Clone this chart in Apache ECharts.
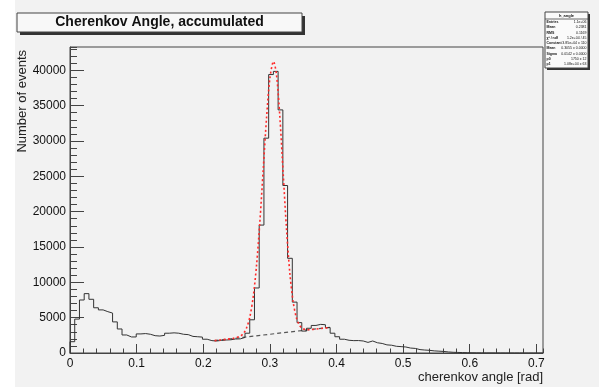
<!DOCTYPE html>
<html>
<head>
<meta charset="utf-8">
<script src="https://cdn.jsdelivr.net/npm/echarts@6/dist/echarts.min.js"></script>
<style>
html,body{margin:0;padding:0;background:#fff;}
#chart{width:599px;height:387px;background:linear-gradient(to right,#fff 0,#fff 15px,#f2f2f2 15px);}
</style>
</head>
<body>
<div id="chart"></div>
<script>
// histogram: 100 bins from 0 to 0.71 rad
const binWidth = 0.0071;
const counts = [
  1600, 4800, 7500, 8400, 7600, 6400, 6100, 5850, 5650, 4400,
  3400, 2550, 2270, 2270, 2700, 2750, 2650, 2450, 2400, 2500,
  2800, 2850, 2800, 2650, 2600, 2350, 2300, 2250, 1950, 1750,
  1700, 1780, 1840, 1870, 1980, 2000, 2200, 2800, 4700, 9200,
  18100, 30400, 39400, 39850, 34400, 23700, 13400, 7200, 4300, 3100,
  3500, 3900, 4050, 4000, 3600, 2800, 2300, 1950, 1800, 1750,
  1760, 1700, 1500, 1700, 1450, 1350, 1150, 1100, 950, 900,
  850, 700, 650, 480, 420, 380, 300, 260, 220, 150,
  100, 80, 60, 40, 30, 20, 15, 10, 8, 5,
  3, 2, 2, 1, 1, 0, 0, 0, 0, 0
];
// fit (gauss + background)
const fitX = [0.217, 0.225, 0.235, 0.245, 0.255, 0.26, 0.265, 0.27, 0.275, 0.28,
  0.285, 0.29, 0.295, 0.30, 0.3055, 0.31, 0.315, 0.32, 0.325, 0.33,
  0.335, 0.34, 0.345, 0.35, 0.355, 0.36, 0.37, 0.38, 0.39];
const fitY = [1750, 1836, 1944, 2070, 2350, 2730, 3540, 5120, 7940, 12390,
  18550, 25920, 33230, 38840, 41250, 39350, 33420, 25410, 17530, 11300,
  7210, 4930, 3850, 3430, 3310, 3300, 3400, 3510, 3620];
// background part of the fit (grey dashed)
const bgX = [0.217, 0.392];
const bgY = [1750, 3650];

const xMax = 0.71, yMax = 43300;

const statsTitle = 'h_angle';
const statsRows = [
  ['Entries', '1.1e+06'],
  ['Mean', '0.2381'],
  ['RMS', '0.1169'],
  ['\u03c7\u00b2 / ndf', '1.2e+04 / 45'],
  ['Constant', '3.85e+04 \u00b1 110'],
  ['Mean', '0.3055 \u00b1 0.0000'],
  ['Sigma', '0.0142 \u00b1 0.0000'],
  ['p0', '1750 \u00b1 12'],
  ['p1', '1.08e+04 \u00b1 63']
];

const histData = [[0, 0]];
counts.forEach((c, i) => histData.push([i * binWidth, c]));
histData.push([counts.length * binWidth, counts[counts.length - 1]]);

const font = 'Liberation Sans, Arial, sans-serif';
const ink = '#444';

const chart = echarts.init(document.getElementById('chart'));

const stats = [];
const sx = 545, sy = 12, sw = 43, sh = 56;
stats.push({type: 'rect', shape: {x: sx + 2, y: sy + 2, width: sw, height: sh}, style: {fill: '#333'}});
stats.push({type: 'rect', shape: {x: sx, y: sy, width: sw, height: sh}, style: {fill: '#fafafa', stroke: ink, lineWidth: 1}});
stats.push({type: 'text', x: sx + sw / 2, y: sy + 4, style: {text: statsTitle, font: 'bold 4px ' + font, fill: '#111', align: 'center', verticalAlign: 'middle'}});
stats.push({type: 'line', shape: {x1: sx, y1: sy + 7, x2: sx + sw, y2: sy + 7}, style: {stroke: ink, lineWidth: 0.8}});
statsRows.forEach((r, i) => {
  const y = sy + 10 + i * 5.3;
  stats.push({type: 'text', x: sx + 1.5, y: y, style: {text: r[0], font: 'bold 3.5px ' + font, fill: '#111', align: 'left', verticalAlign: 'middle'}});
  stats.push({type: 'text', x: sx + sw - 1.5, y: y, style: {text: r[1], font: '3.5px ' + font, fill: '#111', align: 'right', verticalAlign: 'middle'}});
});

chart.setOption({
  animation: false,
  backgroundColor: 'transparent',
  grid: {left: 70, right: 56, top: 47, bottom: 34, show: true, borderColor: ink, borderWidth: 1, backgroundColor: 'transparent'},
  xAxis: [{
    type: 'value', min: 0, max: xMax, interval: 0.1, position: 'bottom',
    axisLine: {show: true, onZero: false, lineStyle: {color: ink}},
    axisTick: {show: true, inside: true, length: 9, lineStyle: {color: ink}},
    axisLabel: {fontSize: 12, color: '#111', fontFamily: font, margin: 5, showMaxLabel: false,
      formatter: v => String(+v.toFixed(2))},
    splitLine: {show: false}
  }, {
    type: 'value', min: 0, max: xMax, interval: 0.02, position: 'bottom',
    axisLine: {show: false},
    axisTick: {show: true, inside: true, length: 4.5, lineStyle: {color: ink}},
    axisLabel: {show: false},
    splitLine: {show: false}
  }],
  yAxis: [{
    type: 'value', min: 0, max: yMax, interval: 5000, position: 'left',
    axisLine: {show: true, onZero: false, lineStyle: {color: ink}},
    axisTick: {show: true, inside: true, length: 14, lineStyle: {color: ink}},
    axisLabel: {fontSize: 12, color: '#111', fontFamily: font, margin: 4, showMaxLabel: false,
      formatter: v => String(Math.round(v))},
    splitLine: {show: false}
  }, {
    type: 'value', min: 0, max: yMax, interval: 1000, position: 'left', offset: 0,
    axisLine: {show: false},
    axisTick: {show: true, inside: true, length: 7, lineStyle: {color: ink}},
    axisLabel: {show: false},
    splitLine: {show: false}
  }],
  series: [{
    type: 'line', step: 'end', symbol: 'none', data: histData,
    lineStyle: {color: '#333', width: 1}, z: 3
  }, {
    type: 'line', symbol: 'none', smooth: 0.3,
    data: fitX.map((x, i) => [x, fitY[i]]),
    lineStyle: {color: '#ff2a2a', width: 1.6, type: [2, 2.5]}, z: 4
  }, {
    type: 'line', symbol: 'none',
    data: bgX.map((x, i) => [x, bgY[i]]),
    lineStyle: {color: '#555', width: 1.2, type: [4, 3]}, z: 2
  }],
  graphic: [
    {type: 'rect', shape: {x: 20, y: 16, width: 285, height: 19}, style: {fill: '#333'}},
    {type: 'rect', shape: {x: 17, y: 13, width: 285, height: 19}, style: {fill: '#f8f8f8', stroke: ink, lineWidth: 1}},
    {type: 'text', x: 159.5, y: 22.5, style: {text: 'Cherenkov Angle, accumulated', font: 'bold 14px ' + font, fill: '#111', align: 'center', verticalAlign: 'middle'}},
    {type: 'text', x: 543, y: 377, style: {text: 'cherenkov angle [rad]', font: '13px ' + font, fill: '#222', align: 'right', verticalAlign: 'middle'}},
    {type: 'text', x: 22, y: 50, rotation: Math.PI / 2, style: {text: 'Number of events', font: '13px ' + font, fill: '#222', align: 'right', verticalAlign: 'middle'}}
  ].concat(stats)
});
</script>
</body>
</html>
